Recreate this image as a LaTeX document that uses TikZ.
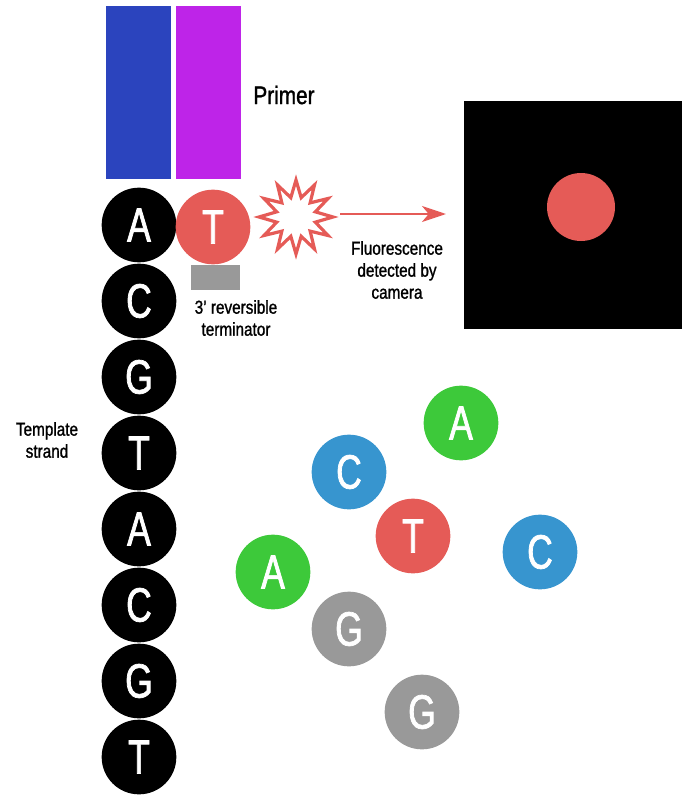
\documentclass[tikz,border=0pt]{standalone}
\usepackage{fontspec}
\setmainfont{Liberation Sans}[FakeStretch=0.82,FakeBold=1.2]
\newfontfamily\nucfont{Liberation Sans}[FakeStretch=0.74,FakeBold=1.5]
\usetikzlibrary{arrows.meta}
\definecolor{primblue}{HTML}{2B44BE}
\definecolor{primpurple}{HTML}{BE24E8}
\definecolor{nred}{HTML}{E55B57}
\definecolor{ngreen}{HTML}{3DC93A}
\definecolor{nblue}{HTML}{3795CF}
\definecolor{ngray}{HTML}{999999}
\begin{document}
\begin{tikzpicture}[x=0.75pt,y=-0.75pt,
  nuc/.style={circle,minimum size=56pt,inner sep=0pt,text=white,font=\nucfont\fontsize{36}{36}\selectfont},
  tmpl/.style={nuc,fill=black},
  lbl/.style={align=center,font=\fontsize{14}{16.5}\selectfont},
  bar/.style={rectangle,inner sep=0pt,minimum width=48.5pt,minimum height=129.75pt,anchor=north west}]
\useasboundingbox (0,0) rectangle (682,795);
% primer
\node[bar,fill=primblue] (pb) at (106,6) {};
\node[bar,fill=primpurple] (pp) at (176,6) {};
\node[font=\fontsize{19}{19}\selectfont] (primer) at (284,95) {Primer};
% template strand
\foreach \l [count=\i] in {A,C,G,T,A,C,G,T}{
  \node[tmpl] (t\i) at (139,{149+76*\i}) {\l};
}
\node[lbl] (tlabel) at (47,440) {Template\\strand};
% incorporated T
\node[rectangle,fill=ngray,inner sep=0pt,minimum width=36.75pt,minimum height=18.75pt] (term) at (215.5,277.5) {};
\node[nuc,fill=nred] (tinc) at (213,227) {T};
\node[lbl] (termlbl) at (236,318) {3’ reversible\\terminator};
% starburst
\coordinate (star) at (296,217);
\draw[nred,line width=2.4pt,fill=white,line join=miter]
  plot[samples at={0,...,23}] ({296+ifthenelse(mod(\x,2)==0,37,20)*cos(90+15*\x)},{217-ifthenelse(mod(\x,2)==0,37,20)*sin(90+15*\x)}) -- cycle;
% arrow
\coordinate (arrS) at (340,214);
\coordinate (arrE) at (446,214);
\draw[nred,line width=1.8pt,-{Stealth[length=18pt,width=12pt,inset=5pt]}] (arrS) -- (arrE);
\node[lbl] (fl) at (397,270) {Fluorescence\\detected by\\camera};
% camera
\node[rectangle,fill=black,inner sep=0pt,minimum width=163.5pt,minimum height=171pt,anchor=north west] (cam) at (464,101) {};
\node[circle,fill=nred,minimum size=51pt,inner sep=0pt] (spot) at (581,207) {};
% free nucleotides
\node[nuc,fill=ngreen] (f1) at (461,423) {A};
\node[nuc,fill=nblue] (f2) at (349,472) {C};
\node[nuc,fill=nred] (f3) at (413,536) {T};
\node[nuc,fill=nblue] (f4) at (540,552) {C};
\node[nuc,fill=ngreen] (f5) at (273,572) {A};
\node[nuc,fill=ngray] (f6) at (349,629) {G};
\node[nuc,fill=ngray] (f7) at (422,712) {G};
\end{tikzpicture}
\end{document}
